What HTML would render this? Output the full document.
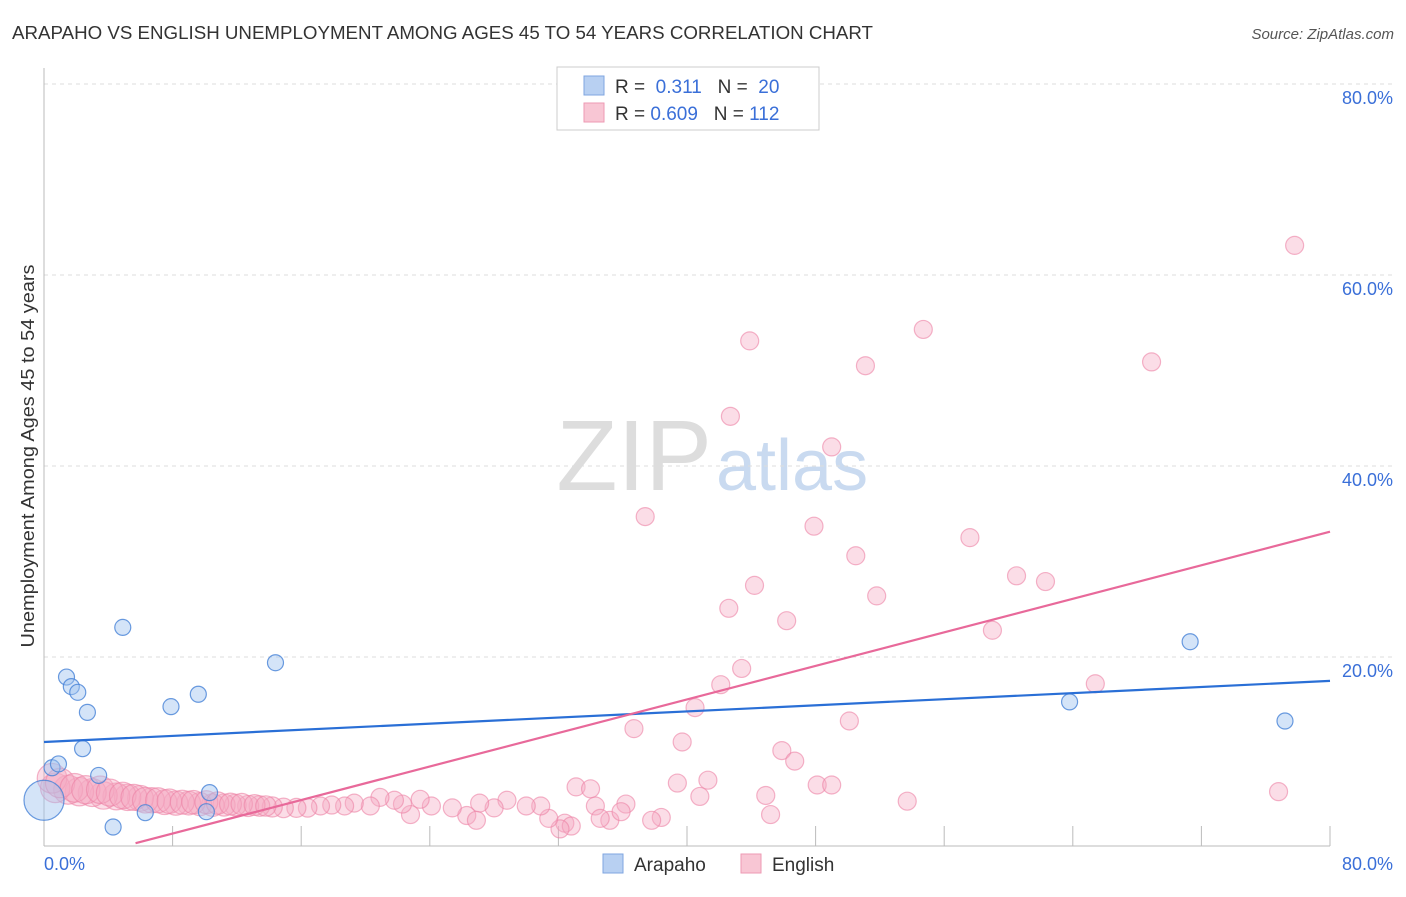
<!DOCTYPE html>
<html><head><meta charset="utf-8"><style>
body{margin:0;background:#fff;font-family:"Liberation Sans",sans-serif;}
svg text{font-family:"Liberation Sans",sans-serif;}
</style></head><body>
<svg id="chart" width="1406" height="892" xmlns="http://www.w3.org/2000/svg">
<text x="12" y="39" font-size="18" fill="#333" textLength="861" lengthAdjust="spacingAndGlyphs">ARAPAHO VS ENGLISH UNEMPLOYMENT AMONG AGES 45 TO 54 YEARS CORRELATION CHART</text>
<text x="1394" y="39" font-size="15" fill="#555" text-anchor="end" font-style="italic">Source: ZipAtlas.com</text>
<text x="712" y="490" font-size="100" fill="#ddd" text-anchor="end" font-family="Liberation Serif">ZIP</text>
<text x="716" y="490" font-size="72" fill="#c9daf0">atlas</text>
<g id="grid"></g>
<line x1="44" y1="68" x2="44" y2="846" stroke="#bbb"/>
<line x1="44" y1="846" x2="1330" y2="846" stroke="#bbb"/>
<text transform="translate(34,456) rotate(-90)" font-size="18" fill="#333" text-anchor="middle" textLength="383" lengthAdjust="spacingAndGlyphs">Unemployment Among Ages 45 to 54 years</text>
<text x="44" y="870" font-size="18" fill="#3a6fd8">0.0%</text>
<text x="1393" y="870" font-size="18" fill="#3a6fd8" text-anchor="end">80.0%</text>
<g id="pts"></g>
<g id="lines"></g>
<g>
<rect x="557" y="67" width="262" height="63" fill="#fff" stroke="#ccc"/>
<rect x="584" y="76" width="20" height="19" fill="#b8d0f2" stroke="#7fa6e0"/>
<rect x="584" y="103" width="20" height="19" fill="#f8c6d4" stroke="#ee9ab3"/>
<text x="615" y="93" font-size="19" fill="#333">R = <tspan fill="#3a6fd8">&#160;0.311</tspan>&#160;&#160;&#160;N = <tspan fill="#3a6fd8">&#160;20</tspan></text>
<text x="615" y="120" font-size="19" fill="#333">R = <tspan fill="#3a6fd8">0.609</tspan>&#160;&#160;&#160;N = <tspan fill="#3a6fd8">112</tspan></text>
</g>
<g>
<rect x="603" y="854" width="20" height="19" fill="#b8d0f2" stroke="#7fa6e0"/>
<text x="634" y="871" font-size="19" fill="#333">Arapaho</text>
<rect x="741" y="854" width="20" height="19" fill="#f8c6d4" stroke="#ee9ab3"/>
<text x="772" y="871" font-size="19" fill="#333">English</text>
</g>
</svg>
<script>
const yTicks=[20,40,60,80];
const xTicks=[8,16,24,32,40,48,56,64,72,80];
const arapahoX=[0.5,0.9,1.4,1.7,2.1,2.7,2.4,3.4,4.9,4.3,6.3,7.9,9.6,10.3,10.1,14.4,63.8,71.3,77.2,0];
const arapahoY=[8.4,8.8,17.9,16.9,16.3,14.2,10.4,7.6,23.1,2.2,3.7,14.8,16.1,5.8,3.8,19.4,15.3,21.6,13.3,5.0];
const englishX=[37.4,43.9,42.7,49.0,51.1,54.7,68.9,77.8,47.9,50.5,57.6,44.2,42.6,46.2,51.8,60.5,62.3,59.0,43.4,42.1,40.5,36.7,39.7,50.1,65.4,45.9,46.7,41.3,39.4,48.1,49.0,44.9,40.8,53.7,76.8,45.2,38.4,37.8,33.1,34.0,34.3,35.2,36.2,35.9,34.6,32.4,32.8,32.1,31.4,30.9,30.0,28.8,28.0,27.1,26.3,26.9,25.4,24.1,23.4,22.8,22.3,21.8,20.9,20.3,19.3,18.7,17.9,17.2,16.4,15.7,14.9,14.2,13.4,12.7,11.9,11.2,10.5,9.7,9.0,8.2,7.5,6.7,6.0,5.2,4.5,3.7,3.0,2.2,1.5,0.7,0.5,1.0,1.9,2.6,3.5,4.1,4.9,5.6,6.3,7.1,7.8,8.6,9.3,10.1,10.8,11.6,12.3,13.1,13.8];
const englishY=[34.7,53.1,45.2,42.0,50.5,54.3,50.9,63.1,33.7,30.6,32.5,27.5,25.1,23.8,26.4,28.5,27.9,22.8,18.8,17.1,14.7,12.5,11.1,13.3,17.2,10.2,9.1,7.1,6.8,6.6,6.6,5.5,5.4,4.9,5.9,3.5,3.2,2.9,6.4,6.2,4.4,2.9,4.6,3.8,3.1,2.6,2.3,2.0,3.1,4.4,4.4,5.0,4.2,4.7,3.4,2.9,4.2,4.4,5.1,3.5,4.6,5.0,5.3,4.4,4.7,4.4,4.5,4.4,4.2,4.2,4.2,4.3,4.4,4.4,4.5,4.5,4.5,4.6,4.7,4.7,4.8,5.0,5.2,5.3,5.4,5.5,5.8,5.9,6.1,6.3,7.3,6.8,6.3,6.1,6.1,5.8,5.5,5.3,5.0,5.0,4.9,4.8,4.8,4.8,4.7,4.6,4.6,4.5,4.4];
const arapahoTrend=[11.1,0.08];
const englishTrend=[-2.0,0.439];
const NS='http://www.w3.org/2000/svg';
const sx=v=>44+v*16.075, sy=v=>848-v*9.55;
function mk(t,a,p){const e=document.createElementNS(NS,t);for(const k in a)e.setAttribute(k,a[k]);p.appendChild(e);return e;}
const grid=document.getElementById('grid');
yTicks.forEach(v=>{
 const l=mk('line',{x1:44,x2:1394,y1:sy(v),y2:sy(v),stroke:'#ddd','stroke-dasharray':'4,4'},grid);
 
 
 const t=mk('text',{x:1393,y:sy(v)+20,'font-size':18,fill:'#3a6fd8','text-anchor':'end'},grid);
 t.textContent=v.toFixed(1)+'%';
 
 
});
xTicks.forEach(v=>{
 const l=mk('line',{x1:sx(v),x2:sx(v),y1:826,y2:846,stroke:'#bbb'},grid);
 
 
});
const pts=document.getElementById('pts');
englishX.forEach((x,i)=>{
 const r=x<20?Math.max(9,15-x*0.35):9;
 const c=mk('circle',{cx:sx(x),cy:sy(englishY[i]),r:r,fill:'rgba(246,170,195,0.4)',stroke:'rgba(236,130,165,0.6)','stroke-width':1.2},pts);
 
 
});
arapahoX.forEach((x,i)=>{
 const r=x===0?20:8;
 const c=mk('circle',{cx:sx(x),cy:sy(arapahoY[i]),r:r,fill:'rgba(160,195,240,0.45)',stroke:'rgba(70,130,215,0.8)','stroke-width':1.2},pts);
 
 
});
const lines=document.getElementById('lines');
const bl=mk('line',{x1:sx(0),y1:sy(arapahoTrend[0]),x2:sx(80),y2:sy(arapahoTrend[0]+arapahoTrend[1]*80),stroke:'#2a6fd6','stroke-width':2.2},lines);


const x0=Math.max(0,(0.5-englishTrend[0])/englishTrend[1]);
const pl=mk('line',{x1:sx(x0),y1:sy(englishTrend[0]+englishTrend[1]*x0),x2:sx(80),y2:sy(englishTrend[0]+englishTrend[1]*80),stroke:'#e8699a','stroke-width':2.2},lines);


</script>
</body></html>
